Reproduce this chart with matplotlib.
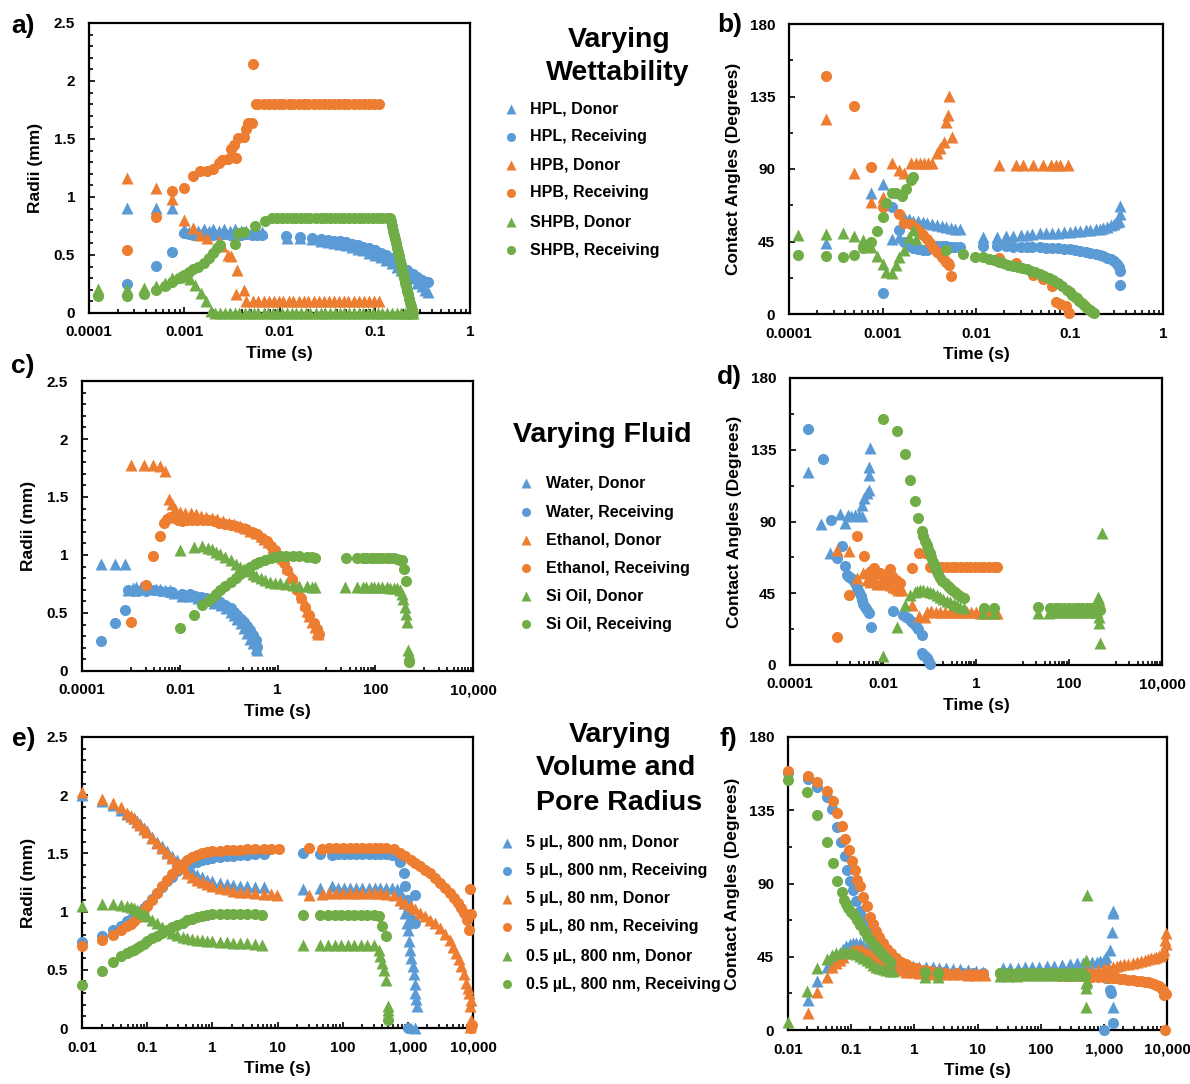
import matplotlib
matplotlib.use("Agg")
import matplotlib.pyplot as plt
from matplotlib.ticker import FixedLocator, NullFormatter

plt.rcParams['font.family'] = ['Liberation Sans', 'DejaVu Sans']
plt.rcParams['font.weight'] = 'bold'
plt.rcParams['axes.labelweight'] = 'bold'

BLUE, ORANGE, GREEN = '#5B9BD5', '#ED7D31', '#70AD47'
W, H = 1190, 1084

# ---------------- a) radii, varying wettability ----------------
a_hpl_don_t = [0.00025, 0.0005, 0.00075, 0.001, 0.00113, 0.00125, 0.0014, 0.0016, 0.0018, 0.002, 0.0023, 0.0026,
               0.003, 0.0034, 0.0039, 0.0045, 0.0051, 0.0058, 0.0066,
               0.012, 0.0165, 0.022, 0.027, 0.032, 0.037, 0.043, 0.05, 0.058, 0.066, 0.076, 0.087, 0.1, 0.115,
               0.13, 0.15, 0.17, 0.19, 0.22, 0.25, 0.28, 0.31, 0.34, 0.36]
a_hpl_don_r = [0.905, 0.905, 0.905, 0.72, 0.70, 0.72, 0.71, 0.72, 0.71, 0.72, 0.71, 0.72,
               0.71, 0.72, 0.71, 0.71, 0.70, 0.70, 0.70,
               0.65, 0.645, 0.635, 0.625, 0.615, 0.605, 0.595, 0.585, 0.57, 0.555, 0.54, 0.52, 0.50, 0.48,
               0.455, 0.43, 0.40, 0.37, 0.33, 0.30, 0.26, 0.23, 0.20, 0.18]
a_hpl_rec_t = [0.00025, 0.0005, 0.00075, 0.001, 0.00113, 0.00125, 0.0014, 0.0016, 0.0018, 0.002, 0.0023, 0.0026,
               0.003, 0.0034, 0.0039, 0.0045, 0.0051, 0.0058, 0.0066,
               0.0117, 0.0164, 0.0218, 0.027, 0.032, 0.037, 0.043, 0.05, 0.058, 0.066, 0.076, 0.087, 0.1, 0.115,
               0.13, 0.15, 0.17, 0.19, 0.22, 0.25, 0.28, 0.31, 0.34, 0.36]
a_hpl_rec_r = [0.253, 0.408, 0.523, 0.69, 0.68, 0.675, 0.68, 0.675, 0.68, 0.675, 0.675, 0.68,
               0.675, 0.675, 0.675, 0.68, 0.675, 0.675, 0.67,
               0.66, 0.655, 0.647, 0.64, 0.632, 0.625, 0.617, 0.608, 0.598, 0.587, 0.573, 0.558, 0.54, 0.52,
               0.50, 0.475, 0.445, 0.415, 0.375, 0.34, 0.31, 0.285, 0.265, 0.27]
a_hpb_don_t = [0.00025, 0.0005, 0.00075, 0.001, 0.00125, 0.00146, 0.00172, 0.0023, 0.0025, 0.00286, 0.0031,
               0.0036, 0.0035, 0.0042, 0.0044,
               0.0053, 0.006, 0.0068, 0.0077, 0.0087, 0.0098, 0.011, 0.0125, 0.014, 0.016, 0.018, 0.02, 0.023,
               0.026, 0.029, 0.033, 0.037, 0.042, 0.047, 0.053, 0.06, 0.068, 0.077, 0.087, 0.098, 0.11]
a_hpb_don_r = [1.16, 1.08, 0.98, 0.80, 0.73, 0.675, 0.645, 0.62, 0.575, 0.50, 0.49, 0.375, 0.16, 0.20, 0.10,
               0.10, 0.10, 0.10, 0.10, 0.10, 0.10, 0.10, 0.10, 0.10, 0.10, 0.10, 0.10, 0.10,
               0.10, 0.10, 0.10, 0.10, 0.10, 0.10, 0.10, 0.10, 0.10, 0.10, 0.10, 0.10, 0.10]
a_hpb_rec_t = [0.00025, 0.0005, 0.00075, 0.001, 0.00125, 0.00146, 0.00175, 0.002, 0.0023, 0.0025, 0.0029,
               0.0031, 0.0035, 0.0033, 0.0037, 0.0042, 0.0044, 0.0047, 0.0052, 0.0053,
               0.0056, 0.006, 0.0068, 0.0077, 0.0087, 0.0098, 0.011, 0.0125, 0.014, 0.016, 0.018, 0.02, 0.023,
               0.026, 0.029, 0.033, 0.037, 0.042, 0.047, 0.053, 0.06, 0.068, 0.077, 0.087, 0.098, 0.11]
a_hpb_rec_r = [0.546, 0.83, 1.05, 1.08, 1.18, 1.22, 1.22, 1.24, 1.29, 1.32, 1.33, 1.41, 1.34, 1.45, 1.51,
               1.52, 1.59, 1.64, 1.64, 2.15,
               1.80, 1.80, 1.80, 1.80, 1.80, 1.80, 1.80, 1.80, 1.80, 1.80, 1.80, 1.80, 1.80,
               1.80, 1.80, 1.80, 1.80, 1.80, 1.80, 1.80, 1.80, 1.80, 1.80, 1.80, 1.80, 1.80]
a_shpb_don_t = [0.000125, 0.00025, 0.000375, 0.0005, 0.000625, 0.00075, 0.000875, 0.001, 0.00115, 0.0013,
                0.0015, 0.0017, 0.0019,
                0.0021, 0.0024, 0.0027, 0.003, 0.0034, 0.0038, 0.0043, 0.0048, 0.0054, 0.006, 0.0068, 0.0076,
                0.0085, 0.0095, 0.0107, 0.012, 0.0135, 0.015, 0.017, 0.019, 0.021, 0.024, 0.027, 0.03, 0.034,
                0.038, 0.043, 0.048, 0.054, 0.06, 0.068, 0.076, 0.085, 0.095, 0.107, 0.12, 0.135, 0.15, 0.17,
                0.19, 0.21, 0.225, 0.24, 0.25]
a_shpb_don_r = [0.21, 0.21, 0.215, 0.23, 0.26, 0.30, 0.31, 0.316, 0.29, 0.245, 0.17, 0.10, 0.015,
                0.0, 0.0, 0.0, 0.0, 0.0, 0.0, 0.0, 0.0, 0.0, 0.0, 0.0, 0.0,
                0.0, 0.0, 0.0, 0.0, 0.0, 0.0, 0.0, 0.0, 0.0, 0.0, 0.0, 0.0, 0.0,
                0.0, 0.0, 0.0, 0.0, 0.0, 0.0, 0.0, 0.0, 0.0, 0.0, 0.0, 0.0, 0.0, 0.0,
                0.0, 0.0, 0.0, 0.0, 0.0]
a_shpb_rec_t = [0.000125, 0.00025, 0.000375, 0.0005, 0.000625, 0.00075, 0.000875, 0.001, 0.00112, 0.00125,
                0.0014, 0.0016, 0.0018, 0.002, 0.0022, 0.0024, 0.0034, 0.0037, 0.0042, 0.0055, 0.007, 0.0083,
                0.0095, 0.0107, 0.012, 0.0135, 0.015, 0.017, 0.019, 0.021, 0.024, 0.027, 0.03, 0.034, 0.038,
                0.043, 0.048, 0.054, 0.06, 0.068, 0.076, 0.085, 0.095, 0.107, 0.12, 0.135, 0.145,
                0.148, 0.152, 0.156, 0.16, 0.164, 0.168, 0.172, 0.176, 0.18, 0.185, 0.19, 0.195, 0.2, 0.205,
                0.21, 0.215, 0.22, 0.225, 0.23, 0.235, 0.24, 0.245, 0.25]
a_shpb_rec_r = [0.144, 0.15, 0.167, 0.20, 0.235, 0.27, 0.30, 0.33, 0.355, 0.38, 0.40, 0.43, 0.47, 0.52, 0.56,
                0.59, 0.595, 0.69, 0.70, 0.75, 0.79, 0.82,
                0.82, 0.82, 0.82, 0.82, 0.82, 0.82, 0.82, 0.82, 0.82, 0.82, 0.82, 0.82, 0.82,
                0.82, 0.82, 0.82, 0.82, 0.82, 0.82, 0.82, 0.82, 0.82, 0.82, 0.82, 0.82,
                0.79, 0.75, 0.71, 0.67, 0.635, 0.60, 0.56, 0.53, 0.49, 0.45, 0.41, 0.37, 0.34, 0.30,
                0.26, 0.23, 0.19, 0.16, 0.125, 0.09, 0.06, 0.03, 0.0]

# ---------------- b) contact angles, varying wettability ----------------
b_hpl_don_t = [0.00025, 0.00075, 0.001, 0.00125, 0.0015, 0.0017, 0.0019, 0.0021, 0.0024, 0.0027, 0.003, 0.0034,
               0.0038, 0.0043, 0.0048, 0.0054, 0.006, 0.0067, 0.0119, 0.0166, 0.021, 0.025, 0.03, 0.035, 0.04,
               0.048, 0.056, 0.065, 0.075, 0.087, 0.1, 0.115, 0.13, 0.15, 0.166, 0.19, 0.21, 0.23, 0.25, 0.28,
               0.3, 0.32, 0.34, 0.35, 0.35]
b_hpl_don_a = [44.3, 75.3, 81, 46.3, 47.6, 60, 59, 58, 57.5, 57, 56.5, 56, 55, 54.5, 54, 53.5, 53, 52.5,
               48, 47.6, 48.4, 48.5, 49, 49, 49.5, 50, 50, 50.5, 50.5, 51, 51, 51.5, 51.5, 52, 52, 52.5, 53,
               53.5, 54, 55, 56, 57, 58, 62, 67]
b_hpl_rec_t = [0.001, 0.00125, 0.0015, 0.0017, 0.0019, 0.0021, 0.0024, 0.0027, 0.003, 0.0034, 0.0038, 0.0043,
               0.0048, 0.0054, 0.006, 0.0067, 0.012, 0.0166, 0.021, 0.025, 0.03, 0.035, 0.04, 0.048, 0.056,
               0.065, 0.075, 0.087, 0.1, 0.115, 0.13, 0.15, 0.166, 0.19, 0.21, 0.23, 0.25, 0.28, 0.3, 0.32,
               0.34, 0.35, 0.35]
b_hpl_rec_a = [13.2, 66.6, 52, 45, 42, 41, 40.5, 40, 40, 41, 42, 42.5, 42, 41.5, 41.5, 41.4, 42.2, 42.2, 42,
               41.8, 41.8, 41.6, 41.5, 41.4, 41.2, 41, 40.8, 40.5, 40.2, 39.8, 39.2, 38.7, 38, 37.2, 36.6,
               35.8, 35, 34, 33, 31, 29, 27, 18]
b_hpb_don_t = [0.00025, 0.0005, 0.00075, 0.001, 0.00125, 0.0015, 0.0017, 0.002, 0.0023, 0.0025, 0.0028,
               0.0031, 0.0034, 0.0038, 0.0041, 0.0045, 0.0048, 0.005, 0.0052, 0.0055, 0.0177, 0.027, 0.032,
               0.041, 0.052, 0.064, 0.072, 0.079, 0.097]
b_hpb_don_a = [120.8, 87.7, 69.7, 72.8, 94, 89.4, 87.3, 93.5, 93.5, 93.5, 93.5, 93.5, 93.5, 99.7, 102.8,
               107, 119.4, 123.5, 135.3, 110, 92.5, 92.5, 92.5, 92.5, 92.5, 92.5, 92.5, 92.5, 92.5]
b_hpb_rec_t = [0.00025, 0.0005, 0.00075, 0.001, 0.0015, 0.0017, 0.002, 0.0023, 0.0025, 0.0027, 0.003,
               0.0032, 0.0035, 0.0038, 0.0041, 0.0043, 0.0046, 0.0048, 0.005, 0.0052, 0.0054, 0.0177, 0.027,
               0.041, 0.052, 0.065, 0.072, 0.079, 0.092, 0.099]
b_hpb_rec_a = [147.7, 129, 91, 66.6, 62, 56.7, 55.9, 53.2, 51, 49, 46.5, 43.9, 41, 38.7, 37, 35.6, 34, 32.5,
               31.5, 30.4, 23.6, 34.6, 31.4, 24.2, 22, 17.4, 7.7, 6.2, 5, 0.4]
b_shpb_don_t = [0.000125, 0.00025, 0.000375, 0.0005, 0.000625, 0.00075, 0.000875, 0.001, 0.0011, 0.00125,
                0.0014, 0.0015, 0.0017, 0.0019, 0.0021, 0.0023]
b_shpb_don_a = [49, 49.7, 50, 48.4, 46, 41.8, 36, 30.8, 26.3, 25.7, 30.4, 35.6, 39.7, 48, 52, 46.3]
b_shpb_rec_t = [0.000125, 0.00025, 0.000375, 0.0005, 0.000625, 0.00075, 0.000875, 0.001, 0.0011, 0.00125,
                0.0014, 0.0016, 0.0018, 0.002, 0.0021, 0.0048, 0.0073, 0.0098, 0.0119, 0.0137, 0.0154,
                0.0175, 0.0195, 0.022, 0.025, 0.028, 0.031, 0.035, 0.039, 0.043, 0.048, 0.054, 0.06, 0.067,
                0.075, 0.083, 0.093, 0.1, 0.107, 0.114, 0.119, 0.127, 0.135, 0.143, 0.15, 0.158, 0.166,
                0.175, 0.185]
b_shpb_rec_a = [36.6, 36, 35.6, 36.6, 40.8, 44.9, 51.7, 60, 68.7, 74.9, 75.3, 73.2, 77.4, 83.2, 85.2, 40,
                37.2, 35.6, 35.2, 34.3, 33.5, 32.5, 31.4, 30.7, 30, 29.2, 28.5, 27.7, 26.8, 25.8, 24.8, 23.5,
                22.3, 21.1, 19.5, 17.5, 14.9, 13.5, 12, 10.8, 9.7, 8.3, 7, 5.7, 4.5, 3.4, 2.4, 1.4, 0.4]

# ---------------- c) radii, varying fluid ----------------
c_wat_don_t = [0.000245, 0.00048, 0.00075, 0.00088, 0.0011, 0.0013, 0.0016, 0.002, 0.0025, 0.0032, 0.004,
               0.005, 0.0064, 0.0075, 0.011, 0.016, 0.024, 0.035, 0.05, 0.07, 0.09, 0.11, 0.13, 0.15, 0.18,
               0.21, 0.24, 0.28, 0.32, 0.36, 0.38]
c_wat_don_r = [0.92, 0.92, 0.92, 0.70, 0.715, 0.72, 0.72, 0.715, 0.715, 0.71, 0.71, 0.70, 0.695, 0.675,
               0.65, 0.645, 0.63, 0.61, 0.59, 0.565, 0.54, 0.51, 0.48, 0.45, 0.41, 0.37, 0.33, 0.28, 0.24,
               0.2, 0.18]
c_wat_rec_t = [0.000245, 0.00048, 0.00075, 0.00088, 0.0011, 0.0014, 0.002, 0.003, 0.004, 0.0055, 0.0068,
               0.011, 0.016, 0.021, 0.027, 0.034, 0.042, 0.053, 0.068, 0.085, 0.11, 0.13, 0.15, 0.18, 0.21,
               0.24, 0.28, 0.32, 0.36, 0.38]
c_wat_rec_r = [0.26, 0.41, 0.53, 0.70, 0.69, 0.69, 0.69, 0.695, 0.69, 0.685, 0.68, 0.667, 0.66, 0.65, 0.64,
               0.63, 0.62, 0.61, 0.595, 0.57, 0.54, 0.51, 0.48, 0.45, 0.42, 0.39, 0.35, 0.31, 0.27, 0.21]
c_eth_don_t = [0.001, 0.0019, 0.0029, 0.004, 0.005, 0.0059, 0.0069, 0.0081, 0.0103, 0.013, 0.017, 0.022,
               0.027, 0.035, 0.045, 0.059, 0.077, 0.1, 0.13, 0.17, 0.22, 0.28, 0.36, 0.45, 0.53, 0.65, 0.8,
               1.0, 1.25, 1.6, 2.0, 2.5, 3.1, 3.6, 4.0, 4.5, 5.2, 5.9, 6.5, 6.9]
c_eth_don_r = [1.78, 1.78, 1.78, 1.765, 1.72, 1.48, 1.44, 1.40, 1.37, 1.365, 1.36, 1.35, 1.34, 1.33, 1.32,
               1.31, 1.29, 1.28, 1.27, 1.25, 1.23, 1.21, 1.19, 1.165, 1.14, 1.11, 1.07, 1.03, 0.97, 0.90,
               0.82, 0.72, 0.64, 0.58, 0.52, 0.47, 0.42, 0.38, 0.34, 0.32]
c_eth_rec_t = [0.001, 0.002, 0.0029, 0.004, 0.0048, 0.0056, 0.0064, 0.0075, 0.009, 0.011, 0.014, 0.018,
               0.023, 0.03, 0.038, 0.05, 0.065, 0.085, 0.11, 0.14, 0.18, 0.23, 0.3, 0.38, 0.48, 0.6, 0.75,
               0.9, 1.1, 1.35, 1.6, 2.0, 2.5, 3.0, 3.7, 4.5, 5.5, 6.3, 7.2]
c_eth_rec_r = [0.42, 0.74, 0.99, 1.16, 1.28, 1.31, 1.33, 1.32, 1.30, 1.29, 1.30, 1.30, 1.30, 1.30, 1.30,
               1.29, 1.28, 1.27, 1.26, 1.25, 1.235, 1.22, 1.2, 1.18, 1.15, 1.12, 1.08, 1.04, 0.99, 0.93,
               0.87, 0.79, 0.70, 0.63, 0.55, 0.48, 0.41, 0.36, 0.32]
c_oil_don_t = [0.01, 0.0193, 0.029, 0.037, 0.045, 0.055, 0.068, 0.085, 0.11, 0.14, 0.17, 0.21, 0.26, 0.31,
               0.37, 0.45, 0.55, 0.7, 0.9, 1.15, 1.5, 2.1, 2.8, 4.0, 5.0, 5.9, 24.5, 42, 57, 66, 80, 95, 115,
               140, 170, 200, 240, 280, 318, 345, 370, 400, 430, 450, 470, 480]
c_oil_don_r = [1.046, 1.07, 1.075, 1.06, 1.05, 1.03, 1.01, 0.985, 0.955, 0.925, 0.90, 0.88, 0.86, 0.84,
               0.815, 0.80, 0.785, 0.77, 0.76, 0.755, 0.75, 0.74, 0.735, 0.73, 0.725, 0.725, 0.725, 0.728,
               0.728, 0.725, 0.725, 0.722, 0.72, 0.72, 0.72, 0.718, 0.715, 0.712, 0.70, 0.66, 0.62, 0.55,
               0.49, 0.42, 0.18, 0.15]
c_oil_rec_t = [0.01, 0.0193, 0.029, 0.037, 0.045, 0.055, 0.068, 0.085, 0.11, 0.14, 0.17, 0.22, 0.28, 0.34,
               0.42, 0.55, 0.72, 0.9, 1.15, 1.5, 2.1, 2.8, 4.0, 5.0, 5.9, 25.7, 42, 57, 66, 80, 95, 115, 140,
               170, 200, 240, 280, 320, 345, 385, 430, 480]
c_oil_rec_r = [0.374, 0.486, 0.566, 0.60, 0.63, 0.66, 0.695, 0.73, 0.767, 0.80, 0.84, 0.875, 0.90, 0.92,
               0.94, 0.96, 0.977, 0.985, 0.99, 0.99, 0.99, 0.988, 0.983, 0.98, 0.977, 0.977, 0.977, 0.975,
               0.977, 0.975, 0.975, 0.975, 0.975, 0.975, 0.972, 0.97, 0.965, 0.96, 0.955, 0.88, 0.78, 0.078]

# ---------------- d) contact angles, varying fluid ----------------
d_wat_don_t = [0.000248, 0.00046, 0.00073, 0.0012, 0.0015, 0.0018, 0.0021, 0.0025, 0.003, 0.0035, 0.0035,
               0.0039, 0.0045, 0.0051, 0.0049, 0.0049, 0.0053]
d_wat_don_a = [120.8, 88.3, 70.5, 94.8, 89, 94.2, 93.6, 94.2, 94.2, 93.6, 100.5, 104.6, 107.8, 110, 119.3,
               124, 136]
d_wat_rec_t = [0.000248, 0.0005, 0.00075, 0.001, 0.0013, 0.0015, 0.0017, 0.0019, 0.0021, 0.0023, 0.0025,
               0.0028, 0.003, 0.0033, 0.0035, 0.0038, 0.0041, 0.0045, 0.0049, 0.0055, 0.0167, 0.0275,
               0.031, 0.035, 0.04, 0.045, 0.051, 0.058, 0.068, 0.068, 0.074, 0.08, 0.088, 0.095, 0.1]
d_wat_rec_a = [148, 129.3, 91, 67, 74.7, 62.2, 56.5, 55.5, 54.4, 53, 51.3, 48.5, 46, 43.5, 40.8, 38.5, 36.2,
               34.3, 32.4, 24, 34.1, 31.4, 30.3, 29.3, 27.8, 26.2, 24.3, 22.4, 18.8, 7.3, 6.5, 5.7, 4.3, 3.1,
               0.6]
d_eth_don_t = [0.001, 0.0019, 0.0028, 0.0038, 0.0045, 0.0053, 0.0063, 0.0074, 0.0086, 0.01, 0.012, 0.014,
               0.0167, 0.019, 0.021, 0.025, 0.042, 0.06, 0.08, 0.09, 0.11, 0.14, 0.17, 0.22, 0.28, 0.33, 0.42,
               0.52, 0.64, 0.8, 1.0, 1.24, 1.55, 1.9, 2.4, 2.8]
d_eth_don_a = [72.2, 71.2, 54.4, 57.6, 53.4, 52, 54.4, 51, 52.3, 50.5, 53, 50, 49.2, 48, 47, 47, 37.7, 30.8,
               30.3, 33, 34.1, 33.5, 33.5, 33.5, 33.2, 33.2, 33, 33, 33, 33, 33, 32.9, 32.9, 32.9, 32.9, 32.9]
d_eth_rec_t = [0.001, 0.0019, 0.0028, 0.0039, 0.0049, 0.0056, 0.0063, 0.0074, 0.0086, 0.01, 0.012, 0.014,
               0.016, 0.019, 0.023, 0.042, 0.06, 0.08, 0.1, 0.12, 0.15, 0.19, 0.24, 0.3, 0.38, 0.48, 0.6,
               0.75, 0.95, 1.2, 1.5, 1.9, 2.4, 2.8]
d_eth_rec_a = [17.4, 44, 81, 68.4, 57.6, 59, 60.7, 58, 57.6, 56, 55.5, 60, 56, 53.4, 51.3, 60.7, 70.5, 70,
               61.7, 61.5, 61.5, 61.5, 61.5, 61.5, 61.5, 61.5, 61.4, 61.4, 61.4, 61.4, 61.3, 61.3, 61.3, 61.3]
d_oil_don_t = [0.01, 0.0197, 0.03, 0.039, 0.048, 0.055, 0.062, 0.073, 0.087, 0.1, 0.12, 0.145, 0.17, 0.2,
               0.24, 0.28, 0.33, 0.39, 0.46, 0.54, 1.4, 2.4, 22, 37, 47, 60, 75, 95, 120, 150, 190, 240, 300,
               360, 400, 430, 445, 440, 450, 460, 509]
d_oil_don_a = [5.7, 24, 37.7, 44, 46, 46.7, 47, 47, 46.7, 45.8, 45, 43.7, 42.5, 41.5, 40.4, 39.3, 38.3,
               37.4, 36.6, 35.6, 32.4, 32.4, 32.4, 32.4, 33.5, 33.5, 33.5, 33.5, 33.5, 33.5, 33.5, 33.5, 33.5,
               33.5, 33.5, 42.9, 41, 26.2, 30, 14, 83]
d_oil_rec_t = [0.01, 0.0197, 0.03, 0.039, 0.048, 0.058, 0.068, 0.073, 0.08, 0.087, 0.094, 0.1, 0.11, 0.12,
               0.13, 0.14, 0.155, 0.17, 0.19, 0.22, 0.25, 0.28, 0.31, 0.35, 0.4, 0.46, 0.54, 1.45, 2.4, 22,
               40, 50, 62, 78, 98, 125, 155, 195, 245, 300, 360, 420, 460]
d_oil_rec_a = [154.2, 146.5, 132.3, 116.2, 102.6, 92.1, 84.3, 80.6, 78, 75.3, 72.5, 70.1, 67.5, 64.9, 62.3,
               59.6, 57, 54.4, 52.8, 51.3, 49.7, 48.1, 47, 46, 44.7, 43.3, 41.9, 35.6, 35.6, 36.2, 35.6,
               35.6, 35.6, 35.6, 35.6, 35.6, 35.6, 35.6, 35.6, 35.6, 35.6, 35.4, 34.5]

# ---------------- e) radii, varying volume and pore radius ----------------
e_t_early = [0.01, 0.02, 0.03, 0.04, 0.049, 0.056, 0.062, 0.07, 0.079, 0.089, 0.1, 0.12, 0.142, 0.17, 0.2,
             0.24, 0.29, 0.35, 0.41, 0.49, 0.58, 0.7, 0.83, 1.0, 1.33, 1.7, 2.1, 2.7, 3.4, 4.5]
e_5u800_don_t = e_t_early + [6.2, 25, 45, 69, 85, 105, 130, 160, 200, 250, 310, 380, 470, 580,
                             682, 760, 815, 870, 920, 970, 1000, 1050, 1090, 1130, 1180, 1230, 1270, 1300,
                             1340, 1380, 1300]
e_5u800_don_r = [2.005, 1.953, 1.92, 1.876, 1.84, 1.82, 1.80, 1.775, 1.75, 1.72, 1.69, 1.645, 1.60, 1.56,
                 1.52, 1.48, 1.446, 1.41, 1.375, 1.345, 1.317, 1.295, 1.274, 1.26, 1.246, 1.238, 1.23,
                 1.224, 1.217, 1.213,
                 1.21, 1.19, 1.20, 1.217, 1.20, 1.20, 1.20, 1.20, 1.20, 1.20, 1.20, 1.20, 1.20, 1.20,
                 1.19, 1.17, 1.13, 1.07, 0.99, 0.90, 0.845, 0.75, 0.67, 0.60, 0.53, 0.46, 0.38, 0.30,
                 0.25, 0.186, 0.0]
e_5u800_rec_t = e_t_early + [6.2, 25, 45, 69, 85, 105, 130, 160, 200, 250, 310, 380, 470, 580,
                             682, 770, 870, 920, 960, 990, 1000, 1140, 1300, 1300]
e_5u800_rec_r = [0.736, 0.793, 0.839, 0.873, 0.916, 0.935, 0.954, 0.975, 1.00, 1.03, 1.06, 1.11, 1.16,
                 1.21, 1.26, 1.30, 1.346, 1.375, 1.40, 1.415, 1.43, 1.44, 1.45, 1.46, 1.47, 1.475, 1.48,
                 1.485, 1.49, 1.493,
                 1.495, 1.50, 1.497, 1.49, 1.497, 1.497, 1.497, 1.497, 1.497, 1.497, 1.497, 1.497, 1.495,
                 1.49, 1.475, 1.43, 1.33, 1.217, 1.10, 0.99, 0.0, 0.93, 0.90, 1.145]
e_5u80_don_t = e_t_early + [6.2, 8, 9.8, 30, 48, 62, 80, 100, 130, 160, 200, 250, 310, 380, 470, 610, 770,
                            920, 1100, 1300, 1560, 1850, 2200, 2600, 3100, 3700, 4400, 5000, 5500, 6000,
                            6600, 7200, 7800, 8300, 8800, 9200, 9000, 9300, 9000]
e_5u80_don_r = [2.025, 1.97, 1.93, 1.896, 1.85, 1.825, 1.80, 1.77, 1.74, 1.71, 1.68, 1.635, 1.59, 1.545,
                1.50, 1.46, 1.42, 1.375, 1.33, 1.30, 1.274, 1.255, 1.24, 1.22, 1.20, 1.19, 1.18, 1.172,
                1.165, 1.16,
                1.154, 1.15, 1.145, 1.145, 1.152, 1.16, 1.16, 1.16, 1.16, 1.16, 1.16, 1.16, 1.16, 1.16,
                1.155, 1.145, 1.10, 1.07, 1.045, 1.02, 0.99, 0.96, 0.93, 0.90, 0.86, 0.81, 0.76, 0.70,
                0.645, 0.59, 0.53, 0.46, 0.387, 0.34, 0.30, 0.24, 0.186, 0.07, 0.01]
e_5u80_rec_t = e_t_early + [6.2, 8, 10.5, 30, 48, 62, 80, 100, 130, 160, 200, 250, 310, 380, 470, 610, 770,
                            920, 1100, 1300, 1560, 1850, 2200, 2600, 3100, 3700, 4400, 5200, 5900, 6600,
                            7400, 8100, 8800, 9300, 9000, 9500, 9200]
e_5u80_rec_r = [0.707, 0.76, 0.80, 0.84, 0.873, 0.895, 0.916, 0.945, 0.974, 1.01, 1.045, 1.10, 1.16, 1.22,
                1.274, 1.325, 1.375, 1.41, 1.446, 1.47, 1.49, 1.50, 1.51, 1.517, 1.523, 1.527, 1.53, 1.533,
                1.536, 1.538,
                1.54, 1.54, 1.54, 1.546, 1.54, 1.545, 1.545, 1.545, 1.545, 1.545, 1.545, 1.545, 1.545,
                1.545, 1.543, 1.54, 1.50, 1.475, 1.446, 1.42, 1.39, 1.36, 1.33, 1.29, 1.246, 1.20, 1.16,
                1.12, 1.074, 1.03, 0.99, 0.93, 0.845, 0.98, 1.19, 0.03, 0.0]
e_05u_don_t = e_t_early + [5.7, 24.5, 45, 60, 75, 95, 120, 150, 190, 240, 300, 356, 380, 400, 430, 460,
                           490, 500]
e_05u_don_r = [1.045, 1.065, 1.065, 1.06, 1.05, 1.04, 1.03, 1.015, 1.00, 0.98, 0.96, 0.93, 0.90, 0.87,
               0.845, 0.82, 0.80, 0.785, 0.773, 0.765, 0.76, 0.755, 0.75, 0.745, 0.74, 0.736, 0.733, 0.73,
               0.727, 0.725,
               0.716, 0.716, 0.716, 0.716, 0.716, 0.716, 0.716, 0.716, 0.716, 0.716, 0.716, 0.67, 0.616,
               0.558, 0.50, 0.415, 0.186, 0.157]
e_05u_rec_t = e_t_early + [5.7, 25, 45, 60, 75, 95, 120, 150, 190, 240, 300, 356, 400, 460, 500]
e_05u_rec_r = [0.372, 0.487, 0.564, 0.616, 0.644, 0.66, 0.673, 0.69, 0.707, 0.725, 0.745, 0.77, 0.793,
               0.82, 0.845, 0.865, 0.888, 0.905, 0.925, 0.94, 0.954, 0.965, 0.974, 0.978, 0.982, 0.982,
               0.982, 0.98, 0.98, 0.977,
               0.974, 0.974, 0.974, 0.974, 0.974, 0.974, 0.974, 0.974, 0.974, 0.974, 0.972, 0.96, 0.873,
               0.788, 0.072]

# ---------------- f) contact angles, varying volume and pore radius ----------------
f_t_hump = [0.0207, 0.029, 0.041, 0.05, 0.058, 0.066, 0.075, 0.084, 0.095, 0.107, 0.12, 0.137, 0.155,
            0.175, 0.2, 0.22, 0.25, 0.28, 0.32, 0.36, 0.43, 0.52, 0.62, 0.75, 0.95, 1.2, 1.55, 2.0, 2.5,
            3.2, 4.1, 5.3, 7, 9.6]
f_5u800_don_t = f_t_hump + [12, 25.6, 33, 44, 56, 72, 95, 125, 165, 220, 290, 380, 460, 540, 640, 770,
                            880, 990, 1100, 1240, 1340, 1420, 1420, 1380, 1420]
f_5u800_don_a = [18.5, 30.3, 38.5, 43.5, 45.5, 47.2, 49.5, 51.3, 52.8, 53.7, 53.7, 53.3, 52, 50.2, 48.5,
                 47.2, 45.9, 44.7, 43.8, 43, 42.2, 41.4, 40.7, 40, 39.5, 39, 38.8, 38.5, 38.2, 37.9, 37.6,
                 37.3, 37, 36.5,
                 35.9, 37.9, 37.9, 37.9, 38.5, 39, 39, 39.5, 39.5, 40, 40.5, 41, 41.2, 41.4, 41.7, 42,
                 42.5, 43, 45, 49.2, 60.5, 71.8, 73.4, 14.4, 35]
f_5u800_rec_t = [0.01, 0.0207, 0.029, 0.041, 0.05, 0.06, 0.07, 0.08, 0.087, 0.095, 0.107, 0.12, 0.137,
                 0.15, 0.164, 0.18, 0.2, 0.225, 0.25, 0.28, 0.32, 0.36, 0.41, 0.48, 0.59, 0.7, 0.85, 1.1,
                 1.4, 1.8, 2.2, 3, 4.1, 6, 8.6, 12,
                 22.7, 30, 44, 55, 70, 85, 100, 120, 140, 170, 200, 240, 280, 340, 400, 480, 560, 700,
                 870, 1100, 1240, 1300, 1420, 990]
f_5u800_rec_a = [157.8, 154.2, 149, 143, 135.7, 125, 115.2, 107, 98, 91.6, 85.7, 79, 72.8, 69, 66, 62.5,
                 59.5, 56.5, 53.3, 50.5, 48.2, 46.3, 44.7, 42.8, 41, 39.8, 38.5, 37.6, 36.9, 36.4, 35.9,
                 35.6, 35.3, 35.1, 34.9, 34.9,
                 35.3, 35.3, 35.3, 35.1, 34.9, 34.9, 34.9, 34.9, 34.9, 34.9, 34.9, 34.9, 34.9, 34.9,
                 34.9, 34.9, 34.7, 34.3, 33.8, 31.8, 24.6, 22.5, 4.1, 0]
f_5u80_don_t = f_t_hump + [13, 29, 40, 50, 65, 80, 100, 130, 160, 200, 250, 300, 370, 450, 550, 650, 800,
                           990, 1200, 1400, 1600, 1830, 2100, 2400, 2900, 3400, 3900, 4500, 5000, 5600,
                           6200, 6800, 7400, 8000, 8500, 9000, 9400, 9600, 9500]
f_5u80_don_a = [10.2, 23.6, 32.8, 39, 41, 43, 45, 47.2, 48.5, 49.2, 49.6, 49.6, 49, 48.2, 46.5, 45.1, 43.5,
                42, 40.7, 39.4, 38.3, 37.3, 36.6, 35.9, 35.6, 35.3, 35, 34.7, 34.5, 34.4, 34.2, 34.1, 34,
                33.8,
                33.8, 34.9, 34.9, 34.9, 34.9, 34.9, 34.9, 34.9, 35, 35.2, 35.3, 35.4, 35.5, 35.7, 36,
                36.3, 37, 37.9, 38.3, 38.8, 39.4, 40, 40.4, 40.8, 41.4, 42, 42.5, 43, 43.5, 44, 44.5, 45,
                45.5, 46.1, 47, 49.2, 55.4, 59.5, 53]
f_5u80_rec_t = [0.01, 0.0207, 0.029, 0.041, 0.052, 0.06, 0.072, 0.081, 0.093, 0.104, 0.114, 0.124, 0.137,
                0.155, 0.175, 0.2, 0.225, 0.25, 0.28, 0.32, 0.37, 0.43, 0.52, 0.62, 0.75, 0.9, 1.07, 1.4,
                1.8, 2.4, 3.2, 4.5, 6.8, 9, 12,
                30.5, 40, 50, 65, 80, 100, 130, 160, 200, 250, 300, 370, 450, 550, 650, 800, 990, 1200,
                1400, 1600, 1830, 2100, 2400, 2900, 3400, 3900, 4500, 5000, 5600, 6200, 6800, 7400, 8000,
                8500, 9000, 9400, 9500]
f_5u80_rec_a = [158.9, 156.2, 152.1, 146.6, 140.4, 133.3, 125.5, 117.3, 110.3, 104.1, 98, 92.2, 88.2, 82,
                75.9, 69.7, 65, 61, 57.4, 53.5, 50, 47, 44.5, 42, 40.3, 39, 38, 37, 36.3, 35.8, 35.3, 35,
                34.4, 34.4, 34.4,
                34.4, 34.2, 34, 33.9, 33.8, 33.8, 33.7, 33.5, 33.4, 33.3, 33.2, 33.1, 33, 32.9, 32.8,
                32.6, 32.4, 32.2, 32, 31.8, 31.6, 31.3, 31, 30.7, 30.4, 30.1, 29.7, 29.3, 28.8, 28.3,
                27.7, 27, 26, 24.6, 21.5, 0, 22]
f_05u_don_t = [0.01, 0.02, 0.029, 0.041, 0.05, 0.058, 0.066, 0.075, 0.084, 0.095, 0.107, 0.12, 0.137,
               0.155, 0.175, 0.2, 0.22, 0.25, 0.28, 0.32, 0.36, 0.41, 0.46, 1.47, 2.4,
               22.7, 30, 42, 55, 67, 85, 105, 130, 160, 200, 250, 310, 380, 450, 520, 520, 525, 530, 535,
               540]
f_05u_don_a = [5.1, 24.2, 37.9, 43.5, 46.1, 47, 47.6, 48, 48.2, 48, 47.6, 46.8, 45.5, 44.3, 43, 41.5, 40,
               38.9, 37.9, 37.3, 36.9, 36.5, 36.3, 32.8, 32.8,
               33.2, 33.2, 33.2, 33.5, 33.5, 33.8, 33.8, 33.8, 33.8, 33.8, 33.8, 33.8, 33.8, 33.8, 43,
               28.7, 25.6, 14.4, 30, 83]
f_05u_rec_t = [0.01, 0.02, 0.029, 0.041, 0.052, 0.06, 0.072, 0.077, 0.083, 0.09, 0.098, 0.11, 0.125,
               0.14, 0.16, 0.18, 0.2, 0.23, 0.26, 0.29, 0.32, 0.36, 0.41, 1.47, 2.4,
               22.7, 30, 42, 55, 67, 85, 105, 130, 160, 200, 250, 310, 380, 450, 500]
f_05u_rec_a = [153.7, 146, 132.2, 115.2, 102.5, 91.8, 84.5, 80, 77.5, 74.8, 72.5, 70.7, 67.5, 64.5, 61,
               58, 55.4, 52.5, 50.2, 48, 46.1, 44.5, 42, 35.9, 35.3,
               35.3, 35.3, 35.3, 35.3, 35.3, 35.3, 35.3, 35.3, 35.3, 35.3, 35.3, 35.3, 35.3, 35.3, 33]

wet_labels = ['HPL, Donor', 'HPL, Receiving', 'HPB, Donor', 'HPB, Receiving', 'SHPB, Donor',
              'SHPB, Receiving']
fluid_labels = ['Water, Donor', 'Water, Receiving', 'Ethanol, Donor', 'Ethanol, Receiving',
                'Si Oil, Donor', 'Si Oil, Receiving']
vol_labels = ['5 µL, 800 nm, Donor', '5 µL, 800 nm, Receiving', '5 µL, 80 nm, Donor',
              '5 µL, 80 nm, Receiving', '0.5 µL, 800 nm, Donor', '0.5 µL, 800 nm, Receiving']

series_colors = [BLUE, BLUE, ORANGE, ORANGE, GREEN, GREEN]
series_markers = ['^', 'o', '^', 'o', '^', 'o']

radius_ticks = [0, 0.5, 1, 1.5, 2, 2.5]
radius_labels = ['0', '0.5', '1', '1.5', '2', '2.5']
angle_ticks = [0, 45, 90, 135, 180]
angle_labels = ['0', '45', '90', '135', '180']

x_ab = [1e-4, 1e-3, 1e-2, 1e-1, 1]
x_ab_labels = ['0.0001', '0.001', '0.01', '0.1', '1']
x_cd = [1e-4, 1e-2, 1, 100, 1e4]
x_cd_labels = ['0.0001', '0.01', '1', '100', '10,000']
x_ef = [1e-2, 1e-1, 1, 10, 100, 1e3, 1e4]
x_ef_labels = ['0.01', '0.1', '1', '10', '100', '1,000', '10,000']


def make_axes(fig, left, top, right, bottom):
    return fig.add_axes([left / W, 1 - bottom / H, (right - left) / W, (bottom - top) / H])


def draw_series(ax, pairs):
    for (t, v), c, m in zip(pairs, series_colors, series_markers):
        if len(t) != len(v):
            raise ValueError(f"length mismatch {len(t)} vs {len(v)}")
        ax.plot(t, v, linestyle='none', marker=m, ms=8, color=c, mec='none',
                clip_on=False, zorder=3)


def style_axes(ax, xmajor, xlabels, xminor, yticks, ylabels, yminor, ylabel, ylabelpad):
    ax.set_xscale('log')
    ax.set_xlim(xmajor[0], xmajor[-1])
    ax.set_ylim(yticks[0], yticks[-1])
    ax.xaxis.set_major_locator(FixedLocator(xmajor))
    ax.set_xticklabels(xlabels)
    ax.xaxis.set_minor_locator(FixedLocator(xminor))
    ax.xaxis.set_minor_formatter(NullFormatter())
    ax.yaxis.set_major_locator(FixedLocator(yticks))
    ax.set_yticklabels(ylabels)
    ax.yaxis.set_minor_locator(FixedLocator(yminor))
    ax.tick_params(which='both', direction='in', top=False, right=False, labelsize=11, width=1.2)
    ax.tick_params(which='major', length=4.5)
    ax.tick_params(which='minor', length=3)
    ax.tick_params(axis='x', pad=9)
    ax.tick_params(axis='y', pad=10)
    for s in ax.spines.values():
        s.set_linewidth(1.6)
    ax.set_xlabel('Time (s)', fontsize=12.5, fontweight='bold', labelpad=5)
    ax.set_ylabel(ylabel, fontsize=12.5, fontweight='bold', labelpad=ylabelpad)


minor_ab = [m * 10.0 ** k for k in range(-4, 0) for m in range(2, 10)]
minor_cd = [m * 10.0 ** k for k in (-3, -1, 1, 3) for m in range(1, 10)]
minor_ef = [m * 10.0 ** k for k in range(-2, 4) for m in range(2, 10)]
minor_r = [i / 10 for i in range(26)]
minor_a = [i * 22.5 for i in range(9)]

fig = plt.figure(figsize=(W / 100, H / 100), dpi=100)

ax_a = make_axes(fig, 89, 23, 470, 313)
draw_series(ax_a, [(a_hpl_don_t, a_hpl_don_r), (a_hpl_rec_t, a_hpl_rec_r), (a_hpb_don_t, a_hpb_don_r),
                   (a_hpb_rec_t, a_hpb_rec_r), (a_shpb_don_t, a_shpb_don_r), (a_shpb_rec_t, a_shpb_rec_r)])
style_axes(ax_a, x_ab, x_ab_labels, minor_ab, radius_ticks, radius_labels, minor_r, 'Radii (mm)', 8)

ax_b = make_axes(fig, 789, 24, 1163, 314)
draw_series(ax_b, [(b_hpl_don_t, b_hpl_don_a), (b_hpl_rec_t, b_hpl_rec_a), (b_hpb_don_t, b_hpb_don_a),
                   (b_hpb_rec_t, b_hpb_rec_a), (b_shpb_don_t, b_shpb_don_a), (b_shpb_rec_t, b_shpb_rec_a)])
style_axes(ax_b, x_ab, x_ab_labels, minor_ab, angle_ticks, angle_labels, minor_a,
           'Contact Angles (Degrees)', 6)

ax_c = make_axes(fig, 82, 381, 473, 671)
draw_series(ax_c, [(c_wat_don_t, c_wat_don_r), (c_wat_rec_t, c_wat_rec_r), (c_eth_don_t, c_eth_don_r),
                   (c_eth_rec_t, c_eth_rec_r), (c_oil_don_t, c_oil_don_r), (c_oil_rec_t, c_oil_rec_r)])
style_axes(ax_c, x_cd, x_cd_labels, minor_cd, radius_ticks, radius_labels, minor_r, 'Radii (mm)', 8)

ax_d = make_axes(fig, 790, 378, 1162, 665)
draw_series(ax_d, [(d_wat_don_t, d_wat_don_a), (d_wat_rec_t, d_wat_rec_a), (d_eth_don_t, d_eth_don_a),
                   (d_eth_rec_t, d_eth_rec_a), (d_oil_don_t, d_oil_don_a), (d_oil_rec_t, d_oil_rec_a)])
style_axes(ax_d, x_cd, x_cd_labels, minor_cd, angle_ticks, angle_labels, minor_a,
           'Contact Angles (Degrees)', 6)

ax_e = make_axes(fig, 82, 737, 473, 1028)
draw_series(ax_e, [(e_5u800_don_t, e_5u800_don_r), (e_5u800_rec_t, e_5u800_rec_r),
                   (e_5u80_don_t, e_5u80_don_r), (e_5u80_rec_t, e_5u80_rec_r),
                   (e_05u_don_t, e_05u_don_r), (e_05u_rec_t, e_05u_rec_r)])
style_axes(ax_e, x_ef, x_ef_labels, minor_ef, radius_ticks, radius_labels, minor_r, 'Radii (mm)', 8)

ax_f = make_axes(fig, 788, 737, 1167, 1030)
draw_series(ax_f, [(f_5u800_don_t, f_5u800_don_a), (f_5u800_rec_t, f_5u800_rec_a),
                   (f_5u80_don_t, f_5u80_don_a), (f_5u80_rec_t, f_5u80_rec_a),
                   (f_05u_don_t, f_05u_don_a), (f_05u_rec_t, f_05u_rec_a)])
style_axes(ax_f, x_ef, x_ef_labels, minor_ef, angle_ticks, angle_labels, minor_a,
           'Contact Angles (Degrees)', 6)

# overlay in pixel coordinates for panel letters, group titles and legends
ov = fig.add_axes([0, 0, 1, 1], zorder=-1)
ov.set_xlim(0, W)
ov.set_ylim(H, 0)
ov.axis('off')

for letter, x, y in [('a)', 11, 26), ('b)', 717, 25), ('c)', 11, 366), ('d)', 717, 377),
                     ('e)', 12, 739), ('f)', 719, 739)]:
    ov.text(x, y, letter, fontsize=19, ha='left', va='center')

for line, x, y in [('Varying', 619, 40), ('Wettability', 618, 73), ('Varying Fluid', 602, 435),
                   ('Varying', 620, 735), ('Volume and', 616, 768), ('Pore Radius', 619, 803)]:
    ov.text(x, y, line, fontsize=20.5, ha='center', va='center')


def legend_block(labels, mx, tx, ys):
    for lab, c, m, y in zip(labels, series_colors, series_markers, ys):
        ov.plot([mx], [y], marker=m, ms=6.5, color=c, mec='none', linestyle='none')
        ov.text(tx, y, lab, fontsize=11.5, ha='left', va='center')


legend_block(wet_labels, 511, 530, [109, 137, 165, 193, 222, 250])
legend_block(fluid_labels, 526, 546, [483, 512, 540, 568, 596, 624])
legend_block(vol_labels, 507, 526, [843, 871, 899, 927, 956, 984])

fig.savefig('out.png', dpi=100)
